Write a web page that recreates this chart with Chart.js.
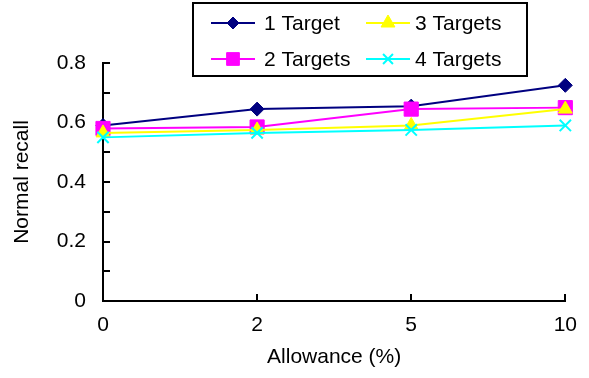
<!DOCTYPE html>
<html>
<head>
<meta charset="utf-8">
<script src="https://cdn.jsdelivr.net/npm/chart.js@4/dist/chart.umd.min.js"></script>
<style>
  html, body { margin: 0; padding: 0; background: #fff; }
  #wrap { width: 589px; height: 378px; position: relative; }
</style>
</head>
<body>
<div id="wrap"><canvas id="c" width="589" height="378"></canvas></div>
<script>
// Allowance categories on the x axis
const allowance = ['0', '2', '5', '10'];

// Normal recall per number of targets
const oneTarget    = [0.59, 0.645, 0.655, 0.725];
const twoTargets   = [0.58, 0.585, 0.645, 0.65];
const threeTargets = [0.565, 0.575, 0.59, 0.645];
const fourTargets  = [0.55, 0.565, 0.575, 0.59];

const seriesNames = ['1 Target', '2 Targets', '3 Targets', '4 Targets'];
const yTickValues = [0, 0.2, 0.4, 0.6, 0.8];

const FONT = '"Liberation Sans", Arial, Helvetica, sans-serif';
const FONT_SIZE = 21;

const styles = [
  { color: '#000080', point: 'rectRot',  radius: 7,  legendRadius: 6 },
  { color: '#FF00FF', point: 'rect',     radius: 10, legendRadius: 9 },
  { color: '#FFFF00', point: 'triangle', radius: 8,  legendRadius: 8 },
  { color: '#00FFFF', point: 'crossRot', radius: 8,  legendRadius: 7 }
];

const values = [oneTarget, twoTargets, threeTargets, fourTargets];

const datasets = values.map((v, i) => ({
  label: seriesNames[i],
  data: v,
  borderColor: styles[i].color,
  backgroundColor: styles[i].color,
  pointBackgroundColor: styles[i].color,
  pointBorderColor: styles[i].color,
  pointStyle: styles[i].point,
  pointRadius: styles[i].radius,
  pointHoverRadius: styles[i].radius,
  pointBorderWidth: styles[i].point === 'crossRot' ? 2 : 1,
  borderWidth: 2,
  tension: 0,
  fill: false,
  clip: false,
  // later series are painted over earlier ones
  order: values.length - i
}));

// Small tick marks pointing into the plot, every 0.1 on y and at each category on x
const innerTicks = {
  id: 'innerTicks',
  afterDatasetsDraw(chart) {},
  beforeDatasetsDraw(chart) {
    const ctx = chart.ctx;
    const xs = chart.scales.x, ys = chart.scales.y;
    const left = chart.chartArea.left, bottom = chart.chartArea.bottom;
    ctx.save();
    ctx.strokeStyle = '#000';
    ctx.lineWidth = 2;
    ys.ticks.forEach(t => {
      const y = Math.round(ys.getPixelForValue(t.value));
      ctx.beginPath();
      ctx.moveTo(left, y);
      ctx.lineTo(left + 7, y);
      ctx.stroke();
    });
    allowance.forEach((_, i) => {
      const x = Math.round(xs.getPixelForValue(i));
      ctx.beginPath();
      ctx.moveTo(x, bottom);
      ctx.lineTo(x, bottom - 7);
      ctx.stroke();
    });
    ctx.restore();
  }
};

// Boxed legend: two columns, two rows
const boxLegend = {
  id: 'boxLegend',
  afterDraw(chart) {
    const ctx = chart.ctx;
    const box = { x: 193, y: 3, w: 334, h: 73 };
    const rows = [23, 59];
    const cols = [{ line: 211, marker: 233, text: 264 }, { line: 366, marker: 388, text: 415 }];
    const layout = [[0, 0], [1, 0], [0, 1], [1, 1]]; // [row, col] per series
    ctx.save();
    ctx.fillStyle = '#fff';
    ctx.fillRect(box.x, box.y, box.w, box.h);
    ctx.strokeStyle = '#000';
    ctx.lineWidth = 2;
    ctx.strokeRect(box.x, box.y, box.w, box.h);
    ctx.font = FONT_SIZE + 'px ' + FONT;
    ctx.textBaseline = 'middle';
    ctx.textAlign = 'left';
    datasets.forEach((ds, i) => {
      const [r, c] = layout[i];
      const y = rows[r];
      const col = cols[c];
      ctx.strokeStyle = ds.borderColor;
      ctx.lineWidth = 2;
      ctx.beginPath();
      ctx.moveTo(col.line, y);
      ctx.lineTo(col.line + 44, y);
      ctx.stroke();
      ctx.fillStyle = ds.backgroundColor;
      ctx.strokeStyle = ds.borderColor;
      ctx.lineWidth = ds.pointBorderWidth;
      Chart.helpers.drawPoint(ctx, {
        pointStyle: ds.pointStyle,
        radius: styles[i].legendRadius,
        rotation: 0,
        borderWidth: ds.pointBorderWidth
      }, col.marker, y);
      ctx.fillStyle = '#000';
      ctx.fillText(ds.label, col.text, y + 1);
    });
    ctx.restore();
  }
};

new Chart(document.getElementById('c'), {
  type: 'line',
  data: { labels: allowance, datasets: datasets },
  plugins: [innerTicks, boxLegend],
  options: {
    responsive: false,
    animation: false,
    events: [],
    layout: { padding: { top: 63, right: 22, bottom: 0, left: 0 } },
    plugins: { legend: { display: false }, tooltip: { enabled: false } },
    scales: {
      x: {
        type: 'category',
        offset: false,
        grid: { display: true, drawOnChartArea: false, drawTicks: false, color: 'rgba(0,0,0,0)' },
        border: { display: true, color: '#000', width: 2 },
        ticks: {
          color: '#000',
          font: { family: FONT, size: FONT_SIZE },
          padding: 12,
          maxRotation: 0,
          autoSkip: false
        },
        title: {
          display: true,
          text: 'Allowance (%)',
          color: '#000',
          font: { family: FONT, size: FONT_SIZE },
          padding: { top: 0, bottom: 8 }
        },
        afterFit(scale) { scale.height = 77; }
      },
      y: {
        min: 0,
        max: 0.8,
        grid: { display: true, drawOnChartArea: false, drawTicks: false, color: 'rgba(0,0,0,0)' },
        border: { display: true, color: '#000', width: 2 },
        ticks: {
          stepSize: 0.1,
          autoSkip: false,
          color: '#000',
          font: { family: FONT, size: FONT_SIZE },
          padding: 17,
          callback(value) {
            const hit = yTickValues.find(v => Math.abs(v - value) < 1e-6);
            if (hit === undefined) return '';
            return hit === 0 ? '0' : hit.toFixed(1);
          }
        },
        title: {
          display: true,
          text: 'Normal recall',
          color: '#000',
          font: { family: FONT, size: FONT_SIZE },
          padding: { top: 10, bottom: 0 }
        },
        afterFit(scale) { scale.width = 103; }
      }
    }
  }
});
</script>
</body>
</html>
